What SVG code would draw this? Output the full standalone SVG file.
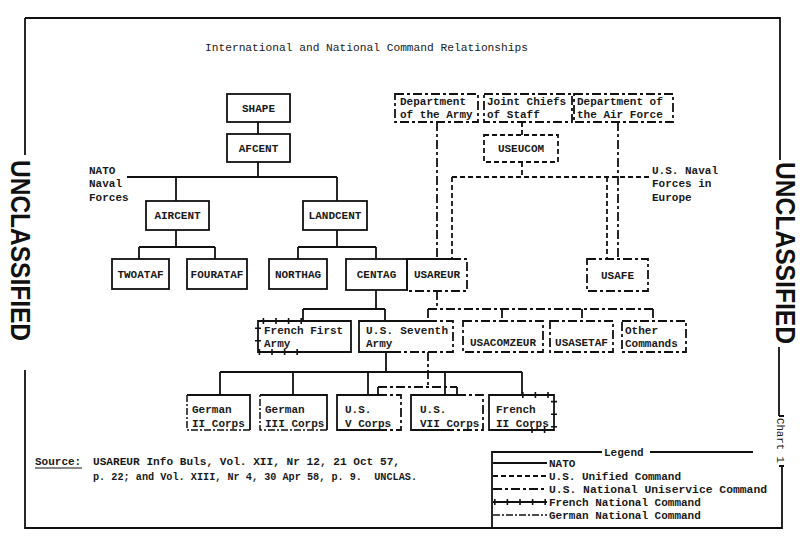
<svg xmlns="http://www.w3.org/2000/svg" width="800" height="542" viewBox="0 0 800 542">
<style>
.ln{fill:none;stroke:#111;stroke-width:1.8}
.uni{stroke-dasharray:5 3}
.usn{stroke-dasharray:9 3 3 3}
.frt{fill:none;stroke:#111;stroke-width:6;stroke-dasharray:1.6 11}
.ger{stroke-dasharray:7 2 2 2;stroke-width:1.5}
.box{fill:none;stroke:#111;stroke-width:1.8}
.t{font-family:"Liberation Mono","DejaVu Sans Mono",monospace;font-size:11px;font-weight:bold;fill:#1a1a1a}
.tn{font-family:"Liberation Mono","DejaVu Sans Mono",monospace;font-size:11px;fill:#1a1a1a}
.c{text-anchor:middle}
.un{font-family:"Liberation Sans",Arial,sans-serif;font-weight:bold;font-size:27px;fill:#111}
</style>
<rect width="800" height="542" fill="#fff"/>

<g id="frame">
<path class="ln" d="M25,18 H780 V160 M25,18 V155 M25,370 V528 H782 V466 M779,347 V416 M779,416 H784 M779,466 H784"/>
<text class="un" transform="translate(11,160) rotate(90)" textLength="181" lengthAdjust="spacingAndGlyphs">UNCLASSIFIED</text>
<text class="un" transform="translate(776,162) rotate(90)" textLength="182" lengthAdjust="spacingAndGlyphs">UNCLASSIFIED</text>
<text class="tn" style="font-size:10px" transform="translate(777,418) rotate(90)" textLength="45" lengthAdjust="spacingAndGlyphs">Chart 1</text>
</g>

<text id="title" class="tn" x="205" y="51" textLength="323" lengthAdjust="spacingAndGlyphs">International and National Command Relationships</text>

<g id="connectors">
<path class="ln" d="M258,122 V134 M258,162 V177 M127,177 H337 M176,177 V201 M337,177 V201 M176,230 V247 M139,247 H215 M139,247 V259 M215,247 V259 M337,230 V247 M298,247 H376 M298,247 V259 M376,247 V259 M376,290 V309 M303,309 H385 M303,309 V321 M385,309 V321 M386,352 V372 M220,372 H522 M220,372 V395 M293,372 V395 M368,372 V395 M445,372 V395 M522,372 V395"/>
<path class="ln uni" d="M522,122 V135 M522,162 V177 M452,177 H650 M452,177 V259 M607,177 V259"/>
<path class="ln usn" d="M437,122 V259 M618,122 V259 M437,291 V309 M428,309 H653 M428,309 V321 M502,309 V321 M582,309 V321 M653,309 V321 M428,352 V387 M378,387 H457 M378,387 V395 M457,387 V395"/>
</g>

<g id="shape"><rect class="box" x="227" y="94" width="63" height="28"/><text class="t c" x="258.5" y="112">SHAPE</text></g>
<g id="afcent"><rect class="box" x="227" y="134" width="63" height="28"/><text class="t c" x="258.5" y="152">AFCENT</text></g>
<g id="nato-naval"><text class="t" x="89" y="174">NATO</text><text class="t" x="89" y="187">Naval</text><text class="t" x="89" y="201">Forces</text></g>
<g id="aircent"><rect class="box" x="146" y="201" width="63" height="29"/><text class="t c" x="177.5" y="219">AIRCENT</text></g>
<g id="landcent"><rect class="box" x="303" y="201" width="64" height="29"/><text class="t c" x="335" y="219">LANDCENT</text></g>
<g id="twoataf"><rect class="box" x="112" y="259" width="57" height="30"/><text class="t c" x="140.5" y="278">TWOATAF</text></g>
<g id="fourataf"><rect class="box" x="187" y="259" width="60" height="30"/><text class="t c" x="217" y="278">FOURATAF</text></g>
<g id="northag"><rect class="box" x="269" y="259" width="58" height="30"/><text class="t c" x="298" y="278">NORTHAG</text></g>
<g id="centag"><rect class="box" x="346" y="259" width="61" height="31"/><text class="t c" x="376.5" y="278">CENTAG</text></g>

<g id="dept-army"><rect class="ln usn" x="395" y="94" width="83" height="28"/><text class="t" x="400" y="105">Department</text><text class="t" x="400" y="118">of the Army</text></g>
<g id="jcs"><rect class="ln usn" x="484" y="94" width="88" height="28"/><text class="t" x="487" y="105">Joint Chiefs</text><text class="t" x="487" y="118">of Staff</text></g>
<g id="dept-af"><rect class="ln usn" x="574" y="94" width="99" height="28"/><text class="t" x="577" y="105">Department of</text><text class="t" x="577" y="118">the Air Force</text></g>
<g id="useucom"><rect class="ln uni" x="484" y="135" width="74" height="27"/><text class="t c" x="521" y="152">USEUCOM</text></g>
<g id="us-naval"><text class="t" x="652" y="174">U.S. Naval</text><text class="t" x="652" y="187">Forces in</text><text class="t" x="652" y="201">Europe</text></g>
<g id="usareur"><path class="ln" d="M452,259 H407 V291"/><path class="ln usn" d="M452,259 H467 V291 H407"/><text class="t c" x="437" y="278">USAREUR</text></g>
<g id="usafe"><rect class="ln usn" x="587" y="259" width="61" height="32"/><text class="t c" x="617.5" y="279">USAFE</text></g>

<g id="french-first-army"><path class="ln" d="M302,321 H351 V352 H302"/><path class="ln" d="M302,321 H258 V352 H302"/><path class="frt" d="M302,321 H258 V352 H302"/><text class="t" x="264" y="334">French First</text><text class="t" x="264" y="347">Army</text></g>
<g id="us-seventh-army"><path class="ln" d="M428,321 H359 V352 H398"/><path class="ln usn" d="M428,321 H453 V352 H398"/><text class="t" x="366" y="334" textLength="82" lengthAdjust="spacing">U.S. Seventh</text><text class="t" x="366" y="347">Army</text></g>
<g id="usacomzeur"><rect class="ln usn" x="463" y="321" width="80" height="31"/><text class="t c" x="503" y="346">USACOMZEUR</text></g>
<g id="usasetaf"><rect class="ln usn" x="550" y="321" width="63" height="31"/><text class="t c" x="581.5" y="346">USASETAF</text></g>
<g id="other-commands"><rect class="ln usn" x="622" y="321" width="64" height="31"/><text class="t" x="625" y="334">Other</text><text class="t" x="625" y="347">Commands</text></g>

<g id="german-ii-corps"><path class="ln" d="M187,395 H250 V430"/><path class="ln ger" d="M250,430 H187 V395"/><text class="t" x="192" y="413">German</text><text class="t" x="192" y="427">II Corps</text></g>
<g id="german-iii-corps"><path class="ln" d="M260,395 H327 V430"/><path class="ln ger" d="M327,430 H260 V395"/><text class="t" x="265" y="413">German</text><text class="t" x="265" y="427">III Corps</text></g>
<g id="us-v-corps"><path class="ln" d="M378,395 H337 V430 H387"/><path class="ln usn" d="M378,395 H401 V430 H387"/><text class="t" x="345" y="413">U.S.</text><text class="t" x="345" y="427">V Corps</text></g>
<g id="us-vii-corps"><path class="ln" d="M457,395 H411 V430 H445"/><path class="ln usn" d="M457,395 H483 V430 H445"/><text class="t" x="420" y="413">U.S.</text><text class="t" x="420" y="427">VII Corps</text></g>
<g id="french-ii-corps"><path class="ln" d="M522,395 H489 V430 H530"/><path class="ln" d="M522,395 H554 V430 H530"/><path class="frt" d="M522,395 H554 V430 H530"/><text class="t" x="496" y="413">French</text><text class="t" x="496" y="427">II Corps</text></g>

<g id="source">
<text class="t" x="35" y="465">Source:</text>
<path class="ln" style="stroke-width:1.2" d="M35,468 H82"/>
<text class="t" x="93" y="465" textLength="307" lengthAdjust="spacingAndGlyphs">USAREUR Info Buls, Vol. XII, Nr 12, 21 Oct 57,</text>
<text class="t" x="93" y="480" textLength="324" lengthAdjust="spacingAndGlyphs" xml:space="preserve">p. 22; and Vol. XIII, Nr 4, 30 Apr 58, p. 9.  UNCLAS.</text>
</g>

<g id="legend">
<path class="ln" d="M492,528 V452 H602 M650,452 H753"/>
<text class="t" x="604" y="456">Legend</text>
<path class="ln" d="M493,463 H547"/>
<path class="ln uni" d="M493,476 H547"/>
<path class="ln usn" d="M493,489 H547"/>
<path class="ln" d="M493,502 H547"/><path class="frt" d="M494,502 H547"/>
<path class="ln ger" d="M493,515 H547"/>
<text class="t" x="549" y="467">NATO</text>
<text class="t" x="549" y="480">U.S. Unified Command</text>
<text class="t" x="549" y="493" textLength="218" lengthAdjust="spacingAndGlyphs">U.S. National Uniservice Command</text>
<text class="t" x="549" y="506">French National Command</text>
<text class="t" x="549" y="519">German National Command</text>
</g>
</svg>
